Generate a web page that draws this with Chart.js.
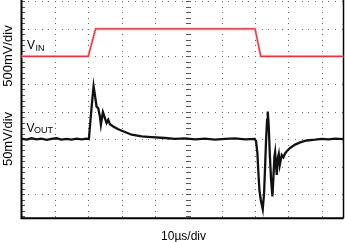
<!DOCTYPE html>
<html>
<head>
<meta charset="utf-8">
<script src="https://cdn.jsdelivr.net/npm/chart.js@4"></script>
<style>
  body { margin: 0; background: #fff; }
  #scope { display: block; }
</style>
</head>
<body>
<canvas id="scope" width="345" height="242"></canvas>
<script>
// time in µs (10 µs/div), VIN in mV (500 mV/div), VOUT in mV (50 mV/div)
const vinT = [0, 20.0, 22.2, 70.0, 71.7, 96.5];
const vinMv = [0, 0, 500, 500, 0, 0];

const voutT = [0, 1.5, 3, 4.5, 6, 7.5, 9, 10.5, 12, 13.5, 15, 16.5, 18, 19.5,
  20.2, 20.8, 21.6, 22.0, 22.5, 23.0, 23.5, 23.8, 24.4, 25.0, 25.5, 26.0, 26.5,
  27.5, 29.0, 31.0, 33.0, 36.0, 39.0, 43.0, 46, 49, 52, 55, 58, 61, 64, 67,
  69.9, 70.3, 70.7, 71.0, 71.3, 71.7, 72.3, 72.7, 73.0, 73.3, 73.6, 73.8, 74.1,
  74.4, 74.8, 75.2, 75.5, 75.8, 76.0, 76.3, 76.5, 76.8, 77.1, 77.4, 77.7, 78.0,
  78.5, 79.0, 79.5, 80.5, 82.0, 83.5, 85.5, 88.0, 90, 92, 94, 96.5];
const voutMv = [1, -1, 1.5, -0.5, 1, -1.5, 0.5, 1.5, -1, 0.5, -1, 1, -0.5, 1,
  0, 44, 96, 80, 59, 56, 41, 26, 49, 38, 29, 35, 27,
  23, 18, 13, 8, 5, 3.5, 2, 0.5, 1.5, -0.5, 1, -1, 0.5, 1.5, -0.5,
  0.5, -4, -26, -62, -92, -110, -127, -98, -50, -1, 35, 50, 23,
  -26, -74, -104, -68, -32, -24, -50, -65, -35, -27, -47, -38, -29,
  -33, -26, -22, -16, -10, -6, -2.5, -1, 0.5, -0.5, 1, 0];

const xGridUs = [0, 10, 20, 30, 40, 50, 60, 70, 80, 90];
const yGridMv = [-100, -50, 0, 50, 100, 150, 200, 250];

const X_MAX = 96.5;
const OUT_DIV = 50;      // mV per division
const IN_DIV = 500;      // mV per division
const IN_SHIFT = 3;      // VIN zero sits 3 divisions above VOUT zero
const DIV_LO = -2.873;
const DIV_HI = 5.047;

function toPoints(xs, ys) {
  return xs.map((x, i) => ({ x, y: ys[i] }));
}

const scopePlugin = {
  id: "scope",
  beforeDatasetsDraw(chart) {
    const { ctx, chartArea: a } = chart;
    const xs = chart.scales.x;
    const ys = chart.scales.yOut;
    ctx.save();
    ctx.fillStyle = "#666";
    // dotted graticule, 5 dots per division
    xGridUs.forEach((t) => {
      const px = Math.round(xs.getPixelForValue(t));
      for (let v = -140; v <= 250; v += OUT_DIV / 5) {
        const py = Math.round(ys.getPixelForValue(v));
        ctx.fillRect(px, py, 1, 1);
      }
    });
    yGridMv.forEach((v) => {
      const py = Math.round(ys.getPixelForValue(v));
      for (let t = 0; t <= X_MAX; t += 2) {
        const px = Math.round(xs.getPixelForValue(t));
        ctx.fillRect(px, py, 1, 1);
      }
    });
    // centre axis and left frame minor ticks
    const cx = Math.round(xs.getPixelForValue(50));
    ctx.fillStyle = "#555";
    for (let v = -140; v <= 250; v += OUT_DIV / 5) {
      const py = Math.round(ys.getPixelForValue(v));
      ctx.fillRect(cx - 2, py, 5, 1);
      ctx.fillRect(Math.round(a.left), py, 3, 1);
    }
    // frame
    ctx.strokeStyle = "#000";
    ctx.lineWidth = 2;
    ctx.beginPath();
    ctx.moveTo(a.left, a.top);
    ctx.lineTo(a.left, a.bottom);
    ctx.lineTo(a.right, a.bottom);
    ctx.stroke();
    ctx.lineWidth = 1.5;
    ctx.beginPath();
    ctx.moveTo(a.right, a.top);
    ctx.lineTo(a.right, a.bottom);
    ctx.stroke();
    ctx.restore();
  },
  afterDatasetsDraw(chart) {
    const { ctx } = chart;
    ctx.save();
    ctx.fillStyle = "#000";
    ctx.textBaseline = "alphabetic";
    ctx.textAlign = "left";
    ctx.font = '12px "Liberation Sans", Arial, sans-serif';
    ctx.fillText("V", 27, 48.5);
    ctx.fillText("V", 26.5, 131.8);
    ctx.font = '9px "Liberation Sans", Arial, sans-serif';
    ctx.fillText("IN", 35.5, 51);
    ctx.fillText("OUT", 34, 133);

    ctx.font = '12px "Liberation Sans", Arial, sans-serif';
    ctx.textAlign = "center";
    ctx.fillText("10\u00b5s/div", 183.5, 240);

    ctx.font = '13px "Liberation Sans", Arial, sans-serif';
    [["500mV/div", 56], ["50mV/div", 139]].forEach(([txt, cy]) => {
      ctx.save();
      ctx.translate(12, cy);
      ctx.rotate(-Math.PI / 2);
      ctx.fillText(txt, 0, 0);
      ctx.restore();
    });
    ctx.restore();
  },
};

new Chart(document.getElementById("scope"), {
  type: "line",
  data: {
    datasets: [
      {
        label: "VIN",
        data: toPoints(vinT, vinMv),
        yAxisID: "yIn",
        borderColor: "#e8303e",
        borderWidth: 1.2,
        order: 0,
      },
      {
        label: "VIN glow",
        data: toPoints(vinT, vinMv),
        yAxisID: "yIn",
        borderColor: "#f6b7bc",
        borderWidth: 2.6,
        order: 1,
      },
      {
        label: "VOUT",
        data: toPoints(voutT, voutMv),
        yAxisID: "yOut",
        borderColor: "#111",
        borderWidth: 2.3,
        order: 2,
      },
    ],
  },
  options: {
    responsive: false,
    animation: false,
    layout: { padding: { left: 21.5, right: 1.5, top: 0, bottom: 23.7 } },
    elements: { point: { radius: 0 }, line: { tension: 0 } },
    plugins: { legend: { display: false }, tooltip: { enabled: false } },
    scales: {
      x: { type: "linear", min: 0, max: X_MAX, display: false },
      yOut: { type: "linear", min: DIV_LO * OUT_DIV, max: DIV_HI * OUT_DIV, display: false },
      yIn: {
        type: "linear",
        min: (DIV_LO - IN_SHIFT) * IN_DIV,
        max: (DIV_HI - IN_SHIFT) * IN_DIV,
        display: false,
      },
    },
  },
  plugins: [scopePlugin],
});
</script>
</body>
</html>
